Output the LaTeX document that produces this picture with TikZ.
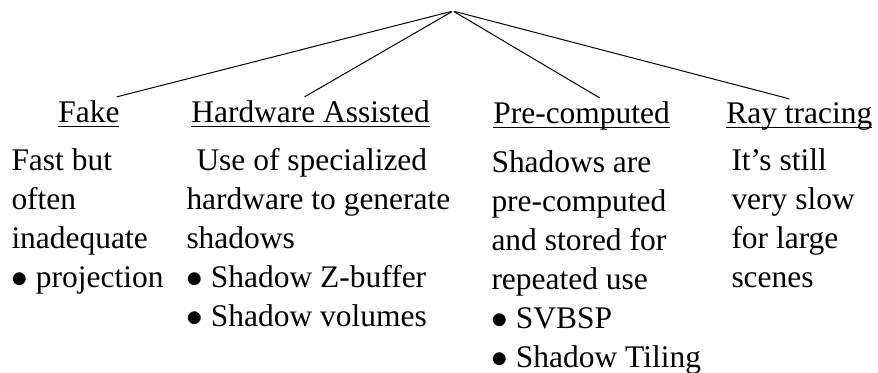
\documentclass[tikz,border=0pt]{standalone}
\usepackage{amsmath}
\usepackage{fontspec}
\setmainfont{Liberation Serif}
\usepackage{tikz}
\usetikzlibrary{positioning}
\newcommand{\ulhead}[1]{\underline{\smash[b]{#1}}}
\newcommand{\itembul}{$\bullet$ }

\begin{document}
\begin{tikzpicture}[x=0.75pt,y=-0.75pt,line width=0.75pt]
	\tikzset{every node/.style={font=\fontsize{23.6}{29.25}\selectfont,inner sep=0pt,anchor=base west}}
	\tikzset{heading/.style={outer sep=2.5pt}}
	\tikzset{column/.style={align=left}}
	\useasboundingbox (0,0) rectangle (878,372);
	\node[anchor=center,minimum width=4.5pt,minimum height=0pt] (root) at (453,11) {};
	\node[heading] (fake) at (55,122) {\ulhead{Fake}};
	\node[heading] (hardware) at (188,122) {\ulhead{Hardware Assisted}};
	\node[heading] (precomp) at (490,123) {\ulhead{Pre-computed}};
	\node[heading] (raytrace) at (723,123) {\ulhead{Ray tracing}};
	% anchored at the baseline of the last line
	\node[column] (fakebody) at (11,287) {Fast but\\often\\inadequate\\\itembul projection};
	\node[column] (hardwarebody) at (186,326) {\hspace*{7.5pt}Use of specialized\\hardware to generate\\shadows\\\itembul Shadow Z-buffer\\\itembul Shadow volumes};
	\node[column] (precompbody) at (491,367) {Shadows are\\pre-computed\\and stored for\\repeated use\\\itembul SVBSP\\\itembul Shadow Tiling};
	\node[column] (raytracebody) at (731,287) {It’s still\\very slow\\for large\\scenes};
	\draw (root) -- ([xshift=-4.5pt]fake.north east);
	\draw (root) -- ([xshift=-4.5pt]hardware.north);
	\draw (root) -- ([xshift=13.5pt]precomp.north);
	\draw (root) -- ([xshift=-7.5pt]raytrace.north);
\end{tikzpicture}
\end{document}
